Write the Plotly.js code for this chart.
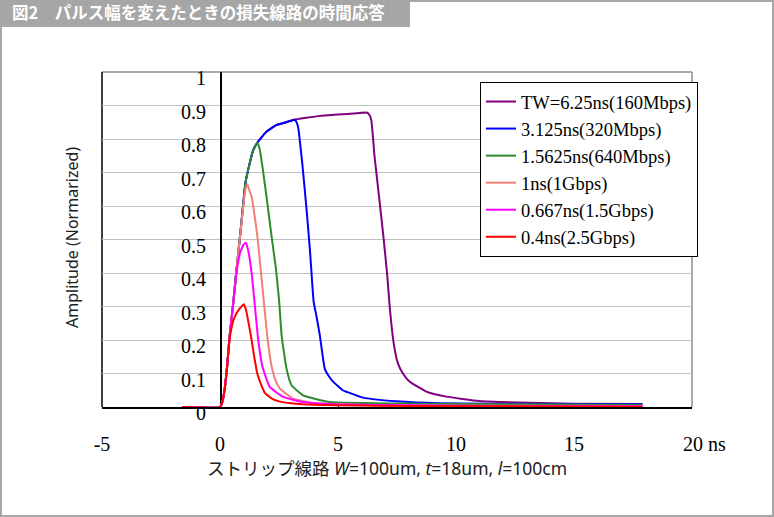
<!DOCTYPE html>
<html>
<head>
<meta charset="utf-8">
<script src="https://cdn.plot.ly/plotly-3.0.1.min.js"></script>
<style>
  html, body { margin: 0; padding: 0; background: #fff; }
  #chart { width: 774px; height: 517px; }
</style>
</head>
<body>
<div id="chart"></div>
<script>
// ---- Data ----
const chartTitle = "図2　パルス幅を変えたときの損失線路の時間応答";
const xAxisTitle = "ストリップ線路 <i>W</i>=100um, <i>t</i>=18um, <i>l</i>=100cm";
const yAxisTitle = "Amplitude (Normarized)";

const seriesNames = [
  "TW=6.25ns(160Mbps)",
  "3.125ns(320Mbps)",
  "1.5625ns(640Mbps)",
  "1ns(1Gbps)",
  "0.667ns(1.5Gbps)",
  "0.4ns(2.5Gbps)"
];

// TW = 6.25 ns
const tPurple = [-1.6, 0, 0.1, 0.2, 0.3, 0.4, 0.56, 0.7, 0.85, 0.99, 1.08, 1.25, 1.4, 1.58, 1.97, 2.4, 2.8, 3.1, 4.23, 5.0, 5.8, 6.2, 6.3, 6.41, 6.55, 6.74, 6.91, 7.08, 7.19, 7.36, 7.54, 7.75, 8.03, 8.74, 9.59, 10.99, 13.1, 15.0, 17.9];
const aPurple = [0, 0, 0.015, 0.055, 0.12, 0.205, 0.31, 0.41, 0.51, 0.61, 0.67, 0.725, 0.765, 0.789, 0.822, 0.842, 0.85, 0.857, 0.869, 0.873, 0.877, 0.879, 0.875, 0.857, 0.747, 0.628, 0.518, 0.399, 0.3, 0.19, 0.13, 0.1, 0.076, 0.046, 0.031, 0.018, 0.0125, 0.01, 0.009];

// 3.125 ns
const tBlue = [-1.6, 0, 0.1, 0.2, 0.3, 0.4, 0.56, 0.7, 0.85, 0.99, 1.08, 1.25, 1.4, 1.58, 1.97, 2.4, 2.8, 3.1, 3.2, 3.31, 3.5, 3.67, 3.81, 3.97, 4.09, 4.23, 4.44, 4.65, 4.79, 5.2, 5.36, 6.06, 7.47, 9.3, 13.1, 17.9];
const aBlue = [0, 0, 0.015, 0.055, 0.12, 0.205, 0.31, 0.41, 0.51, 0.61, 0.67, 0.725, 0.765, 0.789, 0.822, 0.842, 0.85, 0.857, 0.855, 0.835, 0.717, 0.588, 0.469, 0.313, 0.27, 0.214, 0.114, 0.088, 0.0756, 0.05, 0.0457, 0.028, 0.017, 0.011, 0.009, 0.008];

// 1.5625 ns
const tGreen = [-1.6, 0, 0.1, 0.2, 0.3, 0.4, 0.56, 0.7, 0.85, 0.99, 1.08, 1.25, 1.4, 1.58, 1.68, 1.8, 2.0, 2.18, 2.37, 2.51, 2.61, 2.82, 3.03, 3.52, 4.65, 8.3, 12.0, 17.9];
const aGreen = [0, 0, 0.015, 0.055, 0.12, 0.205, 0.31, 0.41, 0.51, 0.61, 0.67, 0.725, 0.765, 0.789, 0.77, 0.717, 0.612, 0.512, 0.413, 0.313, 0.214, 0.114, 0.065, 0.035, 0.015, 0.01, 0.008, 0.006];

// 1 ns
const tSalmon = [-1.6, 0, 0.1, 0.2, 0.3, 0.4, 0.56, 0.7, 0.85, 0.99, 1.08, 1.16, 1.25, 1.34, 1.41, 1.58, 1.72, 1.86, 2.0, 2.18, 2.35, 2.54, 3.1, 3.95, 6.0, 10.0, 17.9];
const aSalmon = [0, 0, 0.015, 0.055, 0.12, 0.205, 0.31, 0.41, 0.51, 0.6, 0.65, 0.665, 0.645, 0.628, 0.598, 0.512, 0.413, 0.313, 0.214, 0.124, 0.08, 0.055, 0.025, 0.012, 0.006, 0.004, 0.003];

// 0.667 ns
const tMagenta = [-1.6, 0, 0.1, 0.2, 0.3, 0.4, 0.56, 0.7, 0.85, 1.0, 1.1, 1.2, 1.34, 1.48, 1.62, 1.8, 2.11, 2.68, 3.5, 5.0, 8.0, 12.0, 17.9];
const aMagenta = [0, 0, 0.015, 0.055, 0.12, 0.205, 0.31, 0.4, 0.46, 0.485, 0.49, 0.465, 0.4, 0.3, 0.2, 0.12, 0.06, 0.03, 0.015, 0.008, 0.005, 0.003, 0.002];

// 0.4 ns
const tRed = [-1.6, 0, 0.1, 0.2, 0.3, 0.4, 0.5, 0.56, 0.7, 0.85, 1.01, 1.1, 1.2, 1.34, 1.45, 1.58, 1.75, 1.9, 2.2, 2.54, 3.0, 3.5, 5.0, 8.0, 12.0, 17.9];
const aRed = [0, 0, 0.015, 0.055, 0.12, 0.2, 0.24, 0.257, 0.28, 0.295, 0.307, 0.29, 0.255, 0.2, 0.15, 0.1, 0.065, 0.042, 0.025, 0.016, 0.011, 0.008, 0.005, 0.003, 0.002, 0.001];

const xTickVals = [-5, 0, 5, 10, 15, 20];
const xTickText = ["-5", "0", "5", "10", "15", "\u00a0\u00a0\u00a0\u00a0\u00a020 ns"];
const yTickVals = [0, 0.1, 0.2, 0.3, 0.4, 0.5, 0.6, 0.7, 0.8, 0.9, 1];
const yTickText = ["0", "0.1", "0.2", "0.3", "0.4", "0.5", "0.6", "0.7", "0.8", "0.9", "1"];

// ---- Styles ----
const seriesColors = ["#800080", "#0000ff", "#2e8b2e", "#f08078", "#ff00ff", "#ff0000"];
const xs = [tPurple, tBlue, tGreen, tSalmon, tMagenta, tRed];
const ys = [aPurple, aBlue, aGreen, aSalmon, aMagenta, aRed];

const traces = seriesNames.map((name, i) => ({
  type: "scatter",
  mode: "lines",
  name: name,
  x: xs[i],
  y: ys[i],
  line: { color: seriesColors[i], width: 2, shape: "spline", smoothing: 0.4 },
  hoverinfo: "skip"
}));

// plot area in pixels: left 102, right 692, top 72, bottom 407
const L = 102, R = 692, T = 72, B = 407, W = 774, H = 517;
const pw = R - L, ph = B - T;
const px = v => (v - L) / pw;
const py = v => (B - v) / ph;

const serif = "Liberation Serif, Times New Roman, serif";
const sans = "Noto Sans, Noto Sans CJK JP, sans-serif";

const layout = {
  width: W,
  height: H,
  margin: { l: L, r: W - R, t: T, b: H - B, pad: 0 },
  paper_bgcolor: "#ffffff",
  plot_bgcolor: "#ffffff",
  showlegend: true,
  title: {
    text: "<b>" + chartTitle + "</b>",
    font: { family: "Noto Sans CJK JP, sans-serif", size: 16.5, color: "#ffffff" },
    xref: "container", yref: "container",
    x: 12 / W, xanchor: "left",
    y: 1 - 13.5 / H, yanchor: "middle"
  },
  xaxis: {
    range: [-5, 20],
    tickvals: xTickVals,
    ticktext: xTickText,
    tickfont: { family: serif, size: 20, color: "#000000" },
    ticks: "inside",
    ticklen: 4,
    tickcolor: "#000000",
    ticklabelstandoff: 18,
    showgrid: false,
    zeroline: false,
    showline: true,
    linecolor: "#000000",
    linewidth: 1.5,
    layer: "below traces",
    fixedrange: true,
    title: { text: "" }
  },
  yaxis: {
    range: [0, 1],
    anchor: "free",
    position: 0.2,
    side: "left",
    tickvals: yTickVals,
    ticktext: yTickText,
    tickfont: { family: serif, size: 20, color: "#000000" },
    ticks: "",
    ticklabelstandoff: 10,
    ticklabelshift: 6,
    showgrid: true,
    gridcolor: "#c0c0c0",
    gridwidth: 1,
    zeroline: false,
    showline: true,
    linecolor: "#000000",
    linewidth: 1.5,
    layer: "below traces",
    fixedrange: true,
    title: { text: "" }
  },
  legend: {
    x: px(480), y: py(82),
    xanchor: "left", yanchor: "top",
    bgcolor: "#ffffff",
    bordercolor: "#000000",
    borderwidth: 1,
    font: { family: serif, size: 18.5, color: "#000000" },
    tracegroupgap: 0
  },
  annotations: [
    {
      text: yAxisTitle,
      xref: "paper", yref: "paper",
      x: px(72), y: py(238),
      xanchor: "center", yanchor: "middle",
      textangle: -90,
      showarrow: false,
      font: { family: sans, size: 16, color: "#222222" }
    },
    {
      text: xAxisTitle,
      xref: "paper", yref: "paper",
      x: px(387), y: py(468),
      xanchor: "center", yanchor: "middle",
      showarrow: false,
      font: { family: sans, size: 17.5, color: "#222222" }
    }
  ],
  shapes: [
    // title bar
    { type: "rect", xref: "paper", yref: "paper", layer: "below",
      x0: px(0), x1: px(410), y0: py(27), y1: py(0),
      fillcolor: "#a6a6a6", line: { width: 0 } },
    // outer frame
    { type: "rect", xref: "paper", yref: "paper", layer: "above",
      x0: px(1), x1: px(773), y0: py(516), y1: py(1),
      fillcolor: "rgba(0,0,0,0)", line: { color: "#a6a6a6", width: 2 } },
    // plot frame: top and right gray, left black
    { type: "line", xref: "paper", yref: "paper", layer: "below",
      x0: 0, x1: 1, y0: 1, y1: 1, line: { color: "#8c8c8c", width: 1.5 } },
    { type: "line", xref: "paper", yref: "paper", layer: "below",
      x0: 1, x1: 1, y0: 0, y1: 1, line: { color: "#8c8c8c", width: 1.5 } },
    { type: "line", xref: "paper", yref: "paper", layer: "below",
      x0: 0, x1: 0, y0: 0, y1: 1, line: { color: "#000000", width: 1.5 } }
  ]
};

Plotly.newPlot("chart", traces, layout, { displayModeBar: false, staticPlot: true });
</script>
</body>
</html>
